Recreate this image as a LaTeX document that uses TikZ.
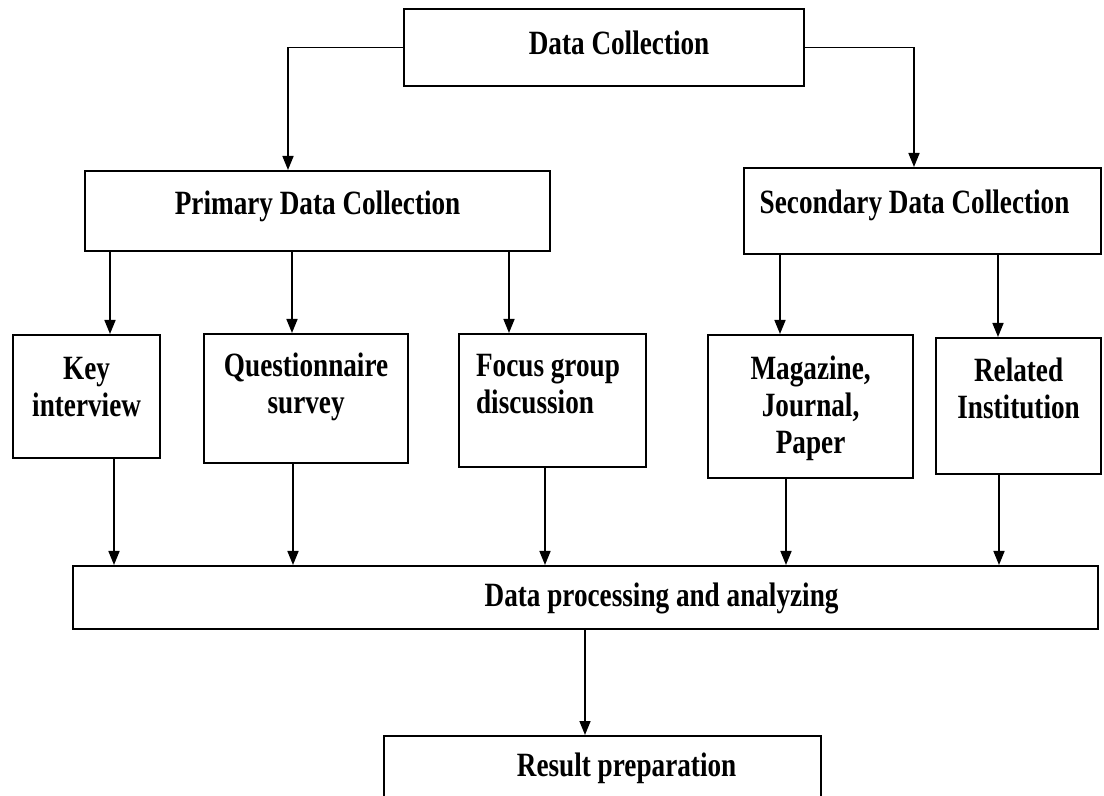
\documentclass[tikz,border=0pt]{standalone}
\usepackage{fontspec}
\setmainfont{Liberation Serif}[FakeStretch=0.8]
\usetikzlibrary{arrows.meta,positioning}

\newcommand\boxfont{\bfseries\fontsize{17}{18.5}\selectfont}
{\boxfont\fontdimen2\font=0.2em}

\tikzset{
  box/.style={draw, line width=1.1pt, inner sep=0pt, anchor=north west, align=flush center,
              font=\boxfont},
  arr/.style={line width=0.8pt, -{Triangle[width=5.5pt,length=7pt]}},
}

\begin{document}
\begin{tikzpicture}[x=0.5pt,y=-0.5pt]
  \useasboundingbox (0,0) rectangle (1104,796);

  % Draw top box
  \node[box, text width=200pt, text height=22.5pt, text depth=16pt] (dc) at (403,8)
       {\hspace*{15pt}Data Collection};

  % Draw primary and secondary boxes
  \node[box, text width=232.5pt, text height=21.5pt, text depth=18.5pt] (pdc) at (84,170)
       {Primary Data Collection};
  \node[box, text width=178.5pt, text height=22.5pt, text depth=20.5pt] (sdc) at (743,167)
       {\hspace*{-8pt}Secondary Data Collection};

  % Draw source boxes
  \node[box, text width=73.5pt, text height=22pt, text depth=39.5pt] (key) at (12,334)
       {Key\\interview};
  \node[box, text width=102pt, text height=21pt, text depth=43.5pt] (qs) at (203,333)
       {Questionnaire\\survey};
  \node[box, align=flush left, inner xsep=8.5pt, text width=76.5pt, text height=21pt, text depth=45.5pt] (fgd) at (458,333)
       {Focus group\\discussion};
  \node[box, text width=102.5pt, text height=22pt, text depth=49.5pt] (mag) at (707,334)
       {Magazine,\\Journal,\\Paper};
  \node[box, text width=82.5pt, text height=21.5pt, text depth=46.5pt] (rel) at (935,337)
       {Related\\Institution};

  % Draw processing and result boxes
  \node[box, text width=512.5pt, text height=20pt, text depth=11.5pt] (proc) at (72,565)
       {\hspace*{76pt}Data processing and analyzing};
  \node[box, text width=218.5pt, text height=20pt, text depth=30pt] (res) at (383,735)
       {\hspace*{24pt}Result preparation};

  % Draw branches from top box
  \draw[arr] (dc.west) -| (pdc.north -| 288,0);
  \draw[arr] (dc.east) -| (sdc.north -| 914,0);

  % Draw arrows to source boxes
  \draw[arr] (pdc.south -| 110,0) -- (key.north -| 110,0);
  \draw[arr] (pdc.south -| 292,0) -- (qs.north -| 292,0);
  \draw[arr] (pdc.south -| 509,0) -- (fgd.north -| 509,0);
  \draw[arr] (sdc.south -| 780,0) -- (mag.north -| 780,0);
  \draw[arr] (sdc.south -| 998,0) -- (rel.north -| 998,0);

  % Draw arrows to processing box
  \draw[arr] (key.south -| 114,0) -- (proc.north -| 114,0);
  \draw[arr] (qs.south -| 293,0) -- (proc.north -| 293,0);
  \draw[arr] (fgd.south -| 545,0) -- (proc.north -| 545,0);
  \draw[arr] (mag.south -| 786,0) -- (proc.north -| 786,0);
  \draw[arr] (rel.south -| 999,0) -- (proc.north -| 999,0);

  \draw[arr] (proc.south -| 585,0) -- (res.north -| 585,0);
\end{tikzpicture}
\end{document}
